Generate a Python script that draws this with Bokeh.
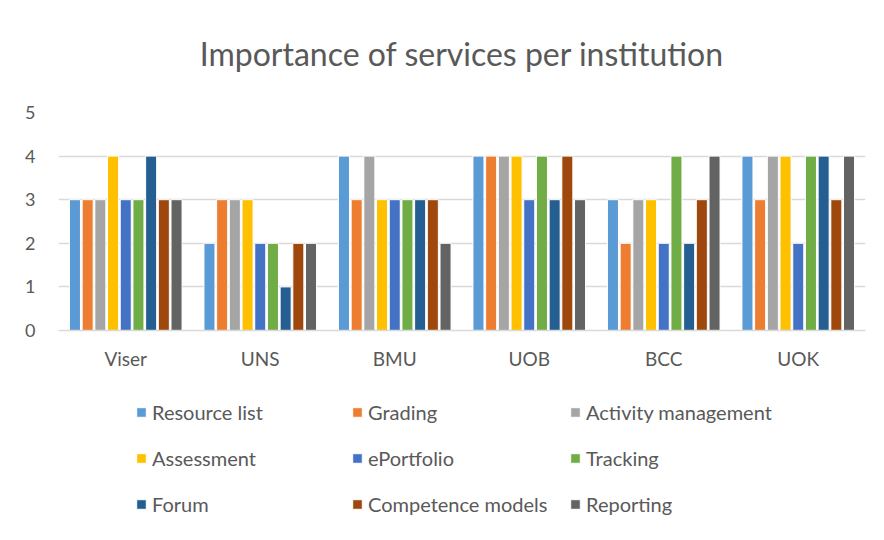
from bokeh.plotting import figure
from bokeh.layouts import column
from bokeh.models import ColumnDataSource, FactorRange, Legend, LegendItem, Range1d
from bokeh.transform import dodge
from bokeh.embed import file_html
from bokeh.resources import INLINE

institutions = ["Viser", "UNS", "BMU", "UOB", "BCC", "UOK"]
services = ["Resource list", "Grading", "Activity management", "Assessment",
            "ePortfolio", "Tracking", "Forum", "Competence models", "Reporting"]
resource_list = [3, 2, 4, 4, 3, 4]
grading = [3, 3, 3, 4, 2, 3]
activity_management = [3, 3, 4, 4, 3, 4]
assessment = [4, 3, 3, 4, 3, 4]
eportfolio = [3, 2, 3, 3, 2, 2]
tracking = [3, 2, 3, 4, 4, 4]
forum = [4, 1, 3, 3, 2, 4]
competence_models = [3, 2, 3, 4, 3, 3]
reporting = [3, 2, 2, 3, 4, 4]
series = [resource_list, grading, activity_management, assessment, eportfolio,
          tracking, forum, competence_models, reporting]
colors = ["#5B9BD5", "#ED7D31", "#A5A5A5", "#FFC000", "#4472C4",
          "#70AD47", "#255E91", "#9E480E", "#636363"]
y_ticks = [0, 1, 2, 3, 4, 5]

data = {"inst": institutions}
keys = []
for i, s in enumerate(series):
    k = f"s{i}"
    keys.append(k)
    data[k] = s
source = ColumnDataSource(data)

FONT = "Lato"
GRAY = "#595959"

p = figure(x_range=FactorRange(*institutions), y_range=Range1d(0, 5),
           frame_width=807, frame_height=218, output_backend="svg", toolbar_location=None,
           min_border_left=58, min_border_right=11, min_border_top=0,
           min_border_bottom=50, title="Importance of services per institution")
p.margin = (-8, 0, 0, 0)
p.title.text_font = FONT
p.title.text_font_size = "32px"
p.title.text_font_style = "normal"
p.title.text_color = GRAY
p.title.align = "center"
p.title.standoff = 79
p.title.offset = -7

step = 0.0944
width = 0.082
renderers = []
for i, k in enumerate(keys):
    r = p.vbar(x=dodge("inst", (i - 4) * step, range=p.x_range), top=k, width=width,
               source=source, fill_color=colors[i], line_color="white", line_width=1)
    renderers.append(r)

p.outline_line_color = None
p.xgrid.grid_line_color = None
p.ygrid.grid_line_color = "#D9D9D9"
p.ygrid.grid_line_width = 1.3
p.yaxis.ticker = y_ticks
p.yaxis.axis_line_color = None
p.yaxis.major_tick_line_color = None
p.yaxis.minor_tick_line_color = None
p.yaxis.major_label_standoff = 17
p.yaxis.major_label_text_font = FONT
p.yaxis.major_label_text_font_size = "18px"
p.yaxis.major_label_text_color = GRAY

p.xaxis.axis_line_color = "#D9D9D9"
p.xaxis.axis_line_width = 1.3
p.xaxis.major_tick_line_color = None
p.xaxis.major_label_standoff = 10
p.xaxis.major_label_text_font = FONT
p.xaxis.major_label_text_font_size = "19px"
p.xaxis.major_label_text_color = GRAY

# legend panel: a second figure holding the legend (bars there are hidden)
lf = figure(x_range=FactorRange(*institutions), y_range=Range1d(0, 5),
            width=876, height=150, output_backend="svg", toolbar_location=None,
            min_border=0, x_axis_location=None, y_axis_location=None)
lf.outline_line_color = None
lf.xgrid.visible = False
lf.ygrid.visible = False
lrs = []
for i, k in enumerate(keys):
    r = lf.vbar(x=dodge("inst", (i - 4) * step, range=lf.x_range), top=k, width=width,
                source=source, fill_color=colors[i], line_color="white", line_width=1,
                visible=False)
    lrs.append(r)

col_x = [77, 293, 511]
for c in range(3):
    items = [LegendItem(label=services[r * 3 + c], renderers=[lrs[r * 3 + c]])
             for r in range(3)]
    lg = Legend(items=items, location=(col_x[c], 14), orientation="vertical",
                label_text_font=FONT, label_text_font_size="20px",
                label_text_color=GRAY, glyph_width=12, glyph_height=12,
                label_standoff=5, label_height=24, spacing=22,
                border_line_color=None, background_fill_alpha=0, padding=0,
                margin=0)
    lf.add_layout(lg, "center")

open("out.html", "w").write(file_html(column(p, lf), INLINE))
